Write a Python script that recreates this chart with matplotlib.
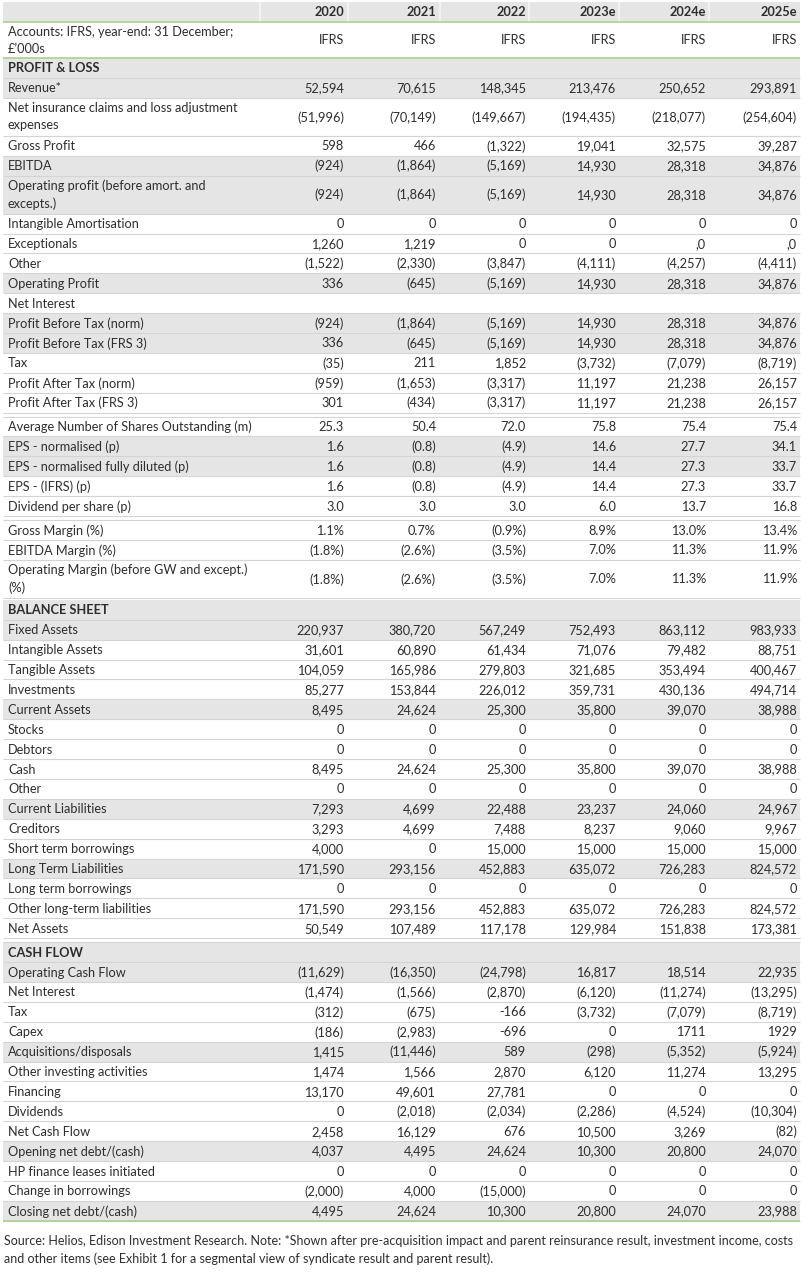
import matplotlib
matplotlib.use("Agg")
import matplotlib.pyplot as plt
from matplotlib.patches import Rectangle

plt.rcParams['font.family'] = ['Lato', 'DejaVu Sans']

# ---- data -------------------------------------------------------------
years = ['2020', '2021', '2022', '2023e', '2024e', '2025e']
basis = ['IFRS'] * 6
basis_label = 'Accounts: IFRS, year-end: 31 December;\n£\u2019000s'

pl_labels = [
    'Revenue*',
    'Net insurance claims and loss adjustment\nexpenses',
    'Gross Profit', 'EBITDA',
    'Operating profit (before amort. and\nexcepts.)',
    'Intangible Amortisation', 'Exceptionals', 'Other', 'Operating Profit',
    'Net Interest', 'Profit Before Tax (norm)', 'Profit Before Tax (FRS 3)',
    'Tax', 'Profit After Tax (norm)', 'Profit After Tax (FRS 3)',
    None,
    'Average Number of Shares Outstanding (m)', 'EPS - normalised (p)',
    'EPS - normalised fully diluted (p)', 'EPS - (IFRS) (p)',
    'Dividend per share (p)',
    None,
    'Gross Margin (%)', 'EBITDA Margin (%)',
    'Operating Margin (before GW and except.)\n(%)',
]
pl_values = [
    ['52,594', '70,615', '148,345', '213,476', '250,652', '293,891'],
    ['(51,996)', '(70,149)', '(149,667)', '(194,435)', '(218,077)', '(254,604)'],
    ['598', '466', '(1,322)', '19,041', '32,575', '39,287'],
    ['(924)', '(1,864)', '(5,169)', '14,930', '28,318', '34,876'],
    ['(924)', '(1,864)', '(5,169)', '14,930', '28,318', '34,876'],
    ['0', '0', '0', '0', '0', '0'],
    ['1,260', '1,219', '0', '0', ',0', ',0'],
    ['(1,522)', '(2,330)', '(3,847)', '(4,111)', '(4,257)', '(4,411)'],
    ['336', '(645)', '(5,169)', '14,930', '28,318', '34,876'],
    ['', '', '', '', '', ''],
    ['(924)', '(1,864)', '(5,169)', '14,930', '28,318', '34,876'],
    ['336', '(645)', '(5,169)', '14,930', '28,318', '34,876'],
    ['(35)', '211', '1,852', '(3,732)', '(7,079)', '(8,719)'],
    ['(959)', '(1,653)', '(3,317)', '11,197', '21,238', '26,157'],
    ['301', '(434)', '(3,317)', '11,197', '21,238', '26,157'],
    None,
    ['25.3', '50.4', '72.0', '75.8', '75.4', '75.4'],
    ['1.6', '(0.8)', '(4.9)', '14.6', '27.7', '34.1'],
    ['1.6', '(0.8)', '(4.9)', '14.4', '27.3', '33.7'],
    ['1.6', '(0.8)', '(4.9)', '14.4', '27.3', '33.7'],
    ['3.0', '3.0', '3.0', '6.0', '13.7', '16.8'],
    None,
    ['1.1%', '0.7%', '(0.9%)', '8.9%', '13.0%', '13.4%'],
    ['(1.8%)', '(2.6%)', '(3.5%)', '7.0%', '11.3%', '11.9%'],
    ['(1.8%)', '(2.6%)', '(3.5%)', '7.0%', '11.3%', '11.9%'],
]
pl_shaded = [0, 3, 4, 8, 10, 11, 17, 18]

bs_labels = [
    'Fixed Assets', 'Intangible Assets', 'Tangible Assets', 'Investments',
    'Current Assets', 'Stocks', 'Debtors', 'Cash', 'Other',
    'Current Liabilities', 'Creditors', 'Short term borrowings',
    'Long Term Liabilities', 'Long term borrowings',
    'Other long-term liabilities', 'Net Assets',
]
bs_values = [
    ['220,937', '380,720', '567,249', '752,493', '863,112', '983,933'],
    ['31,601', '60,890', '61,434', '71,076', '79,482', '88,751'],
    ['104,059', '165,986', '279,803', '321,685', '353,494', '400,467'],
    ['85,277', '153,844', '226,012', '359,731', '430,136', '494,714'],
    ['8,495', '24,624', '25,300', '35,800', '39,070', '38,988'],
    ['0', '0', '0', '0', '0', '0'],
    ['0', '0', '0', '0', '0', '0'],
    ['8,495', '24,624', '25,300', '35,800', '39,070', '38,988'],
    ['0', '0', '0', '0', '0', '0'],
    ['7,293', '4,699', '22,488', '23,237', '24,060', '24,967'],
    ['3,293', '4,699', '7,488', '8,237', '9,060', '9,967'],
    ['4,000', '0', '15,000', '15,000', '15,000', '15,000'],
    ['171,590', '293,156', '452,883', '635,072', '726,283', '824,572'],
    ['0', '0', '0', '0', '0', '0'],
    ['171,590', '293,156', '452,883', '635,072', '726,283', '824,572'],
    ['50,549', '107,489', '117,178', '129,984', '151,838', '173,381'],
]
bs_shaded = [0, 4, 9, 12]

cf_labels = [
    'Operating Cash Flow', 'Net Interest', 'Tax', 'Capex',
    'Acquisitions/disposals', 'Other investing activities', 'Financing',
    'Dividends', 'Net Cash Flow', 'Opening net debt/(cash)',
    'HP finance leases initiated', 'Change in borrowings',
    'Closing net debt/(cash)',
]
cf_values = [
    ['(11,629)', '(16,350)', '(24,798)', '16,817', '18,514', '22,935'],
    ['(1,474)', '(1,566)', '(2,870)', '(6,120)', '(11,274)', '(13,295)'],
    ['(312)', '(675)', '-166', '(3,732)', '(7,079)', '(8,719)'],
    ['(186)', '(2,983)', '-696', '0', '1711', '1929'],
    ['1,415', '(11,446)', '589', '(298)', '(5,352)', '(5,924)'],
    ['1,474', '1,566', '2,870', '6,120', '11,274', '13,295'],
    ['13,170', '49,601', '27,781', '0', '0', '0'],
    ['0', '(2,018)', '(2,034)', '(2,286)', '(4,524)', '(10,304)'],
    ['2,458', '16,129', '676', '10,500', '3,269', '(82)'],
    ['4,037', '4,495', '24,624', '10,300', '20,800', '24,070'],
    ['0', '0', '0', '0', '0', '0'],
    ['(2,000)', '4,000', '(15,000)', '0', '0', '0'],
    ['4,495', '24,624', '10,300', '20,800', '24,070', '23,988'],
]
cf_shaded = [0, 4, 9, 12]

note = ('Source: Helios, Edison Investment Research. Note: *Shown after pre-acquisition impact and parent reinsurance result, investment income, costs\n'
        'and other items (see Exhibit 1 for a segmental view of syndicate result and parent result).')

# ---- layout -----------------------------------------------------------
W, H = 809, 1280
fig = plt.figure(figsize=(W / 100, H / 100), dpi=100)
ax = fig.add_axes([0, 0, 1, 1])
ax.set_xlim(0, W)
ax.set_ylim(H, 0)
ax.axis('off')

left, right = 3, 800
col_right = [344, 436, 526, 616, 706, 797]
col_sep = [260, 348, 440, 529, 619, 709]
fs = 9.2
txt = '#2e2e2e'
shade = '#e5e5e5'
rule = '#d4d4d4'
green = '#a9d18e'
row_h, dbl_h = 19.9, 38

def row_bg(y0, h, fill):
    if fill:
        ax.add_patch(Rectangle((left, y0), right - left, h, color=shade, lw=0))
    ax.hlines(y0 + h, left, right, color=rule, lw=0.8)

def put_row(y0, label, vals, fill, bold=False):
    h = dbl_h if label and '\n' in label else row_h
    row_bg(y0, h, fill)
    if '\n' in label:
        ax.text(8, y0 + 4, label, ha='left', va='top', fontsize=fs,
                color=txt, linespacing=1.5)
    else:
        ax.text(8, y0 + h / 2 + 0.5, label, ha='left', va='center', fontsize=fs,
                color=txt, fontweight='bold' if bold else 'normal')
    if vals:
        for x, v in zip(col_right, vals):
            ax.text(x, y0 + h / 2 + 0.5, v, ha='right', va='center',
                    fontsize=fs, color=txt)
    return y0 + h

# header
y = 2
ax.add_patch(Rectangle((left, y), right - left, 20, color=shade, lw=0))
for x in col_sep:
    ax.vlines(x, y, y + 20, color='#f2f2f2', lw=1.5)
for x, yr in zip(col_right, years):
    ax.text(x, y + 10.5, yr, ha='right', va='center', fontsize=fs,
            color=txt, fontweight='bold')
y += 20
ax.hlines(y, left, right, color=green, lw=1.2)
ax.text(8, y + 4, basis_label, ha='left', va='top', fontsize=fs,
        color=txt, linespacing=1.5)
for x, b in zip(col_right, basis):
    ax.text(x, y + 18.5, b, ha='right', va='center', fontsize=fs, color=txt)
y += 36
ax.hlines(y, left, right, color=green, lw=1.2)

def section(y, title, labels, values, shaded):
    y = put_row(y, title, None, True, bold=True)
    for i, (lab, vals) in enumerate(zip(labels, values)):
        if lab is None:
            ax.hlines(y + 4, left, right, color=rule, lw=0.8)
            y += 4
            continue
        y = put_row(y, lab, vals, i in shaded)
    return y

y = section(y, 'PROFIT & LOSS', pl_labels, pl_values, pl_shaded)
y += 2
y = section(y, 'BALANCE SHEET', bs_labels, bs_values, bs_shaded)
ax.hlines(y + 4, left, right, color=rule, lw=0.8)
y += 4
y = section(y, 'CASH FLOW', cf_labels, cf_values, cf_shaded)
ax.hlines(y, left, right, color=green, lw=1.2)

ax.text(4, y + 14, note, ha='left', va='top', fontsize=fs - 0.2,
        color=txt, linespacing=1.5)

fig.savefig('out.png', dpi=100, facecolor='white')
